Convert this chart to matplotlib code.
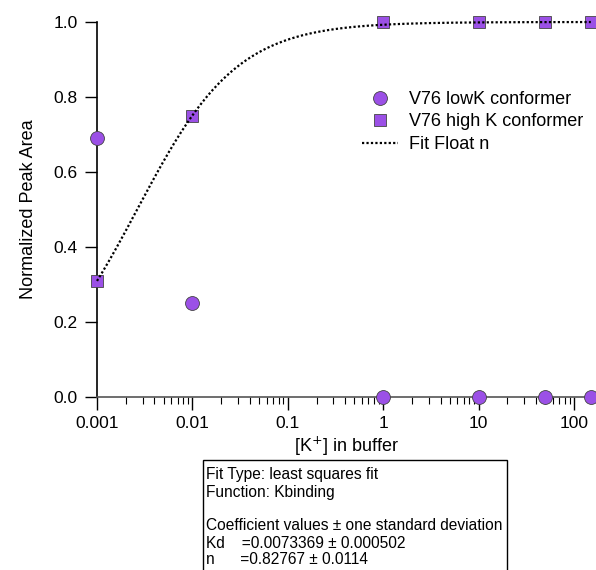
import numpy as np
import matplotlib
matplotlib.use("Agg")
from matplotlib import pyplot as plt
from matplotlib.patches import Rectangle
from matplotlib.ticker import LogLocator, FixedLocator, FixedFormatter, NullFormatter

plt.rcParams['font.family'] = ['Liberation Sans', 'DejaVu Sans']

# data
k_conc = [0.001, 0.01, 1, 10, 50, 150]
low_k = [0.69, 0.25, 0.0, 0.0, 0.0, 0.0]
high_k = [0.31, 0.75, 1.0, 1.0, 1.0, 1.0]

# fit coefficients (Kbinding: y = x^n / (Kd + x^n))
kd = 0.0073369
n_hill = 0.82767

x_ticks = [0.001, 0.01, 0.1, 1, 10, 100]
x_tick_labels = ["0.001", "0.01", "0.1", "1", "10", "100"]
y_ticks = [0.0, 0.2, 0.4, 0.6, 0.8, 1.0]

box_lines = [
    "Fit Type: least squares fit",
    "Function: Kbinding",
    "",
    "Coefficient values \u00b1 one standard deviation",
    "Kd    =0.0073369 \u00b1 0.000502",
    "n      =0.82767 \u00b1 0.0114",
]

purple = "#9b50e6"

fig = plt.figure(figsize=(5.96, 5.70), dpi=100)
ax = fig.add_axes([97 / 596, 1 - 397 / 570, 1 - 97 / 596, 375 / 570])

ax.plot(k_conc, low_k, "o", ms=10, color=purple, mec="#444444", mew=0.6,
        clip_on=False, zorder=3, label="V76 lowK conformer")
ax.plot(k_conc, high_k, "s", ms=9, color=purple, mec="#444444", mew=0.6,
        clip_on=False, zorder=3, label="V76 high K conformer")

xf = np.logspace(-3, np.log10(150), 400)
yf = xf ** n_hill / (kd + xf ** n_hill)
ax.plot(xf, yf, color="black", ls=(0, (1, 1)), lw=1.6, zorder=4,
        clip_on=False, label="Fit Float n")

ax.set_xscale("log")
ax.set_xlim(0.001, 170)
ax.set_ylim(0, 1)

ax.xaxis.set_major_locator(FixedLocator(x_ticks))
ax.xaxis.set_major_formatter(FixedFormatter(x_tick_labels))
ax.xaxis.set_minor_locator(LogLocator(base=10, subs=np.arange(2, 10)))
ax.xaxis.set_minor_formatter(NullFormatter())
ax.set_yticks(y_ticks)
ax.set_yticklabels(["%.1f" % v for v in y_ticks])

for side in ["top", "right"]:
    ax.spines[side].set_visible(False)
ax.spines["left"].set_linewidth(1.2)
ax.spines["bottom"].set_linewidth(1.2)
ax.spines["bottom"].set_color("#555555")

ax.tick_params(axis="both", which="major", direction="out", length=9,
               width=1, labelsize=12.5, pad=5)
ax.tick_params(axis="x", which="minor", direction="out", length=5, width=0.8)

ax.set_xlabel("[K$^{+}$] in buffer", fontsize=13, labelpad=2)
ax.set_ylabel("Normalized Peak Area", fontsize=13, labelpad=12)

ax.legend(loc="upper left", bbox_to_anchor=(362 / 596, (570 - 91) / 570),
          bbox_transform=fig.transFigure, frameon=False, fontsize=13,
          handlelength=2.0, handletextpad=0.6, labelspacing=0.3,
          borderpad=0, borderaxespad=0)

# fit info box
fig.patches.append(Rectangle((203 / 596, -0.05), (507 - 203) / 596, 0.05 + 110 / 570,
                             transform=fig.transFigure, fill=False, ec="black",
                             lw=1, figure=fig))
for i, line in enumerate(box_lines):
    fig.text(206 / 596, 1 - (475 + 17 * i) / 570, line, fontsize=11.2,
             va="center", ha="left")

fig.savefig("out.png", dpi=100)
